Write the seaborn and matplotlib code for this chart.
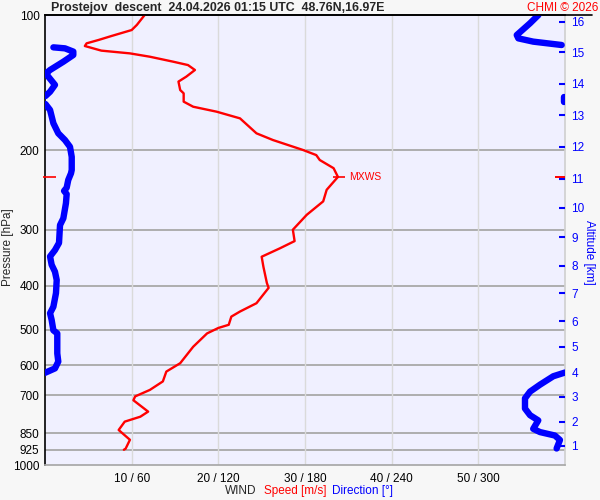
import numpy as np
import pandas as pd
import matplotlib
matplotlib.use('Agg')
import matplotlib.pyplot as plt
from matplotlib.lines import Line2D
from matplotlib.ticker import NullLocator
import seaborn as sns

# ==========================================
# 1. Sounding data
# ==========================================
title = "Prostejov  descent  24.04.2026 01:15 UTC  48.76N,16.97E"

# Wind speed profile (m/s) vs pressure (hPa)
speed_pressure = [100, 105.2, 108, 111.3, 113.6, 115.6, 117.2, 120.0, 121.7, 123.8,
                  127.0, 129.2, 132.5, 137.1, 140.6, 146.8, 149.3, 155.8, 159.9, 164.0,
                  169.7, 183.2, 189.6, 199.6, 204.8, 210, 219, 229, 244.6, 259.5,
                  278, 300, 318, 330, 344.5, 362.6, 394, 404, 437, 456,
                  468, 488, 496, 510, 546, 594, 620, 652, 681, 704,
                  718, 761, 781, 801, 836, 879, 920, 925]
speed_ms = [11.5, 10.6, 10.0, 7.7, 6.2, 4.8, 4.6, 6.5, 9.8, 12.1,
            14.8, 16.5, 17.3, 16.3, 15.4, 15.6, 16.0, 16.0, 17.1, 19.8,
            22.5, 24.4, 26.3, 29.8, 31.3, 31.7, 33.3, 33.8, 32.5, 32.1,
            30.2, 28.6, 28.8, 27.1, 25.0, 25.2, 25.6, 25.8, 24.4, 22.5,
            21.5, 21.2, 20.0, 18.7, 17.1, 15.6, 14.0, 13.6, 12.1, 10.4,
            10.2, 11.9, 11.0, 9.2, 8.5, 9.8, 9.3, 9.1]

# Wind direction profile (deg) vs pressure (hPa), wraps around 0/360
dir_pressure = [100, 104.3, 110.8, 112.7, 114.6, 116.6,
                118, 118.6, 120.6, 122.7, 127, 132.5, 134.8, 137.1, 143.0, 148.1, 151.4,
                152.5, 156,
                157.7, 162.6, 174, 183.2, 189.6, 196.3, 206.7, 221, 224.8, 232.6,
                242, 246, 250, 262, 283, 293, 321, 333, 344, 359,
                372, 388, 415, 445, 460, 476, 502, 510, 565, 589, 610, 624,
                623, 635, 663, 687, 711, 749, 775, 796, 831, 845, 860, 880, 919]
dir_deg = [341.6, 335.8, 326.6, 327.7, 338, 357.7,
           5.8, 13.8, 19.6, 19.6, 12.7, 3.5, 0.7, 2.3, 6.9, 3.5, 0.3,
           359.5, 359.5,
           0.3, 3.5, 5.8, 9.2, 13.8, 17.3, 18.5, 18.5, 18.0, 16.1,
           15.0, 13.2, 15.0, 14.5, 12.7, 10.4, 9.7, 6.9, 3.5, 4.6,
           6.9, 8.1, 7.6, 5.8, 3.5, 4.6, 5.8, 8.5, 8.5, 9.2, 6.9, 0.0,
           360, 351.9, 342.7, 335.8, 332.3, 332.3, 335.8, 341.5, 338, 342.7, 353, 356.5, 354.2]

# Max wind
mxws_pressure = 229
mxws_speed = 33.8

# Axes ticks
pressure_ticks = [100, 200, 300, 400, 500, 600, 700, 850, 925, 1000]
pressure_grid = [200, 300, 400, 500, 600, 700, 850, 925]
speed_ticks = [10, 20, 30, 40, 50]
speed_labels = ["10 / 60", "20 / 120", "30 / 180", "40 / 240", "50 / 300"]
altitude_km = [1, 2, 3, 4, 5, 6, 7, 8, 9, 10, 11, 12, 13, 14, 15, 16]
altitude_pressure = [906, 801, 705, 623, 546, 479, 415, 361, 312, 268, 231, 196, 167, 142, 121, 103.5]

# ==========================================
# 2. Data frames (split direction line where it wraps)
# ==========================================
speed_df = pd.DataFrame({'speed': speed_ms, 'p': speed_pressure})
dir_df = pd.DataFrame({'dir': dir_deg, 'p': dir_pressure})
dir_df['seg'] = (dir_df['dir'].diff().abs() > 180).cumsum()

# ==========================================
# 3. Plot
# ==========================================
sns.set_theme(style='white')
plt.rcParams['font.family'] = ['Liberation Sans', 'DejaVu Sans']

fig = plt.figure(figsize=(6, 5), dpi=100, facecolor='#f7f7f7')
ax = fig.add_axes([45 / 600, 35 / 500, 520 / 600, 450 / 500])
ax.set_facecolor('#f0f0ff')
ax.set_yscale('log')
ax.set_ylim(1000, 100)
ax.set_xlim(0, 60)

# grid
ax.hlines(pressure_grid, 0, 60, color='#a8a8a8', lw=1.3, zorder=1)
ax.vlines(speed_ticks, 100, 1000, color='#dadada', lw=1.0, zorder=1)

# speed profile
sns.lineplot(data=speed_df, x='speed', y='p', sort=False, estimator=None,
             color='red', lw=1.7, solid_joinstyle='round', ax=ax, zorder=3)

# max wind marker
ax.hlines(mxws_pressure, mxws_speed - 0.6, mxws_speed + 0.8, color='red', lw=1.2, zorder=3)
ax.text(mxws_speed + 1.3, mxws_pressure, 'MXWS', color='red', fontsize=7.5, va='center')
ax.hlines(mxws_pressure, -0.25, 1.25, color='red', lw=1.2, clip_on=False, zorder=4)
ax.hlines(mxws_pressure, 58.85, 60, color='red', lw=1.4, zorder=4)

# direction profile on its own x scale
axd = ax.twiny()
axd.set_xlim(0, 360)
sns.lineplot(data=dir_df, x='dir', y='p', units='seg', sort=False, estimator=None,
             color='blue', lw=4.6, solid_capstyle='round', solid_joinstyle='round', ax=axd)
axd.set_xticks([])
axd.set_xlabel('')
axd.set_ylabel('')
for s in axd.spines.values():
    s.set_visible(False)

# left axis
ax.set_yticks(pressure_ticks)
ax.set_yticklabels([str(v) for v in pressure_ticks])
ax.yaxis.set_minor_locator(NullLocator())
ax.set_xticks(speed_ticks)
ax.set_xticklabels(speed_labels)
ax.tick_params(axis='y', length=0, pad=4, labelsize=8.5, colors='black')
ax.tick_params(axis='x', length=0, pad=6, labelsize=8.5, colors='black')
ax.set_xlabel('')
ax.set_ylabel('')
ax.set_ylim(1000, 100)

ax.spines['top'].set_color('black')
ax.spines['top'].set_linewidth(1.2)
ax.spines['left'].set_color('black')
ax.spines['left'].set_linewidth(1.2)
ax.spines['bottom'].set_color('#a8a8a8')
ax.spines['right'].set_color('#d0d0d0')

# right altitude axis
axr = ax.twinx()
axr.set_yscale('log')
axr.set_ylim(1000, 100)
axr.set_yticks(altitude_pressure)
axr.set_yticklabels([str(v) for v in altitude_km])
axr.yaxis.set_minor_locator(NullLocator())
axr.tick_params(axis='y', direction='in', length=4, width=1.5, colors='blue',
                pad=4.5, labelsize=8.5)
for s in axr.spines.values():
    s.set_visible(False)

# top line runs past the plot
fig.add_artist(Line2D([45 / 600, 592 / 600], [485 / 500, 485 / 500], color='black', lw=1.2))

# texts
fig.text(51 / 600, 1 - 8 / 500, title, fontsize=8.9, fontweight='bold', va='center')
fig.text(598 / 600, 1 - 8 / 500, 'CHMI \u00a9 2026', fontsize=8.5, color='red', ha='right', va='center')
fig.text(8 / 600, 1 - 247 / 500, 'Pressure [hPa]', rotation=90, fontsize=8.5, ha='center', va='center')
fig.text(589 / 600, 1 - 252 / 500, 'Altitude [km]', rotation=270, fontsize=8.5, color='blue',
         ha='center', va='center')
fig.text(225 / 600, 1 - 491 / 500, 'WIND', fontsize=8.5, va='center')
fig.text(264 / 600, 1 - 491 / 500, 'Speed [m/s]', fontsize=8.5, color='red', va='center')
fig.text(332 / 600, 1 - 491 / 500, 'Direction [\u00b0]', fontsize=8.5, color='blue', va='center')

fig.savefig('out.png', dpi=100, facecolor=fig.get_facecolor())
